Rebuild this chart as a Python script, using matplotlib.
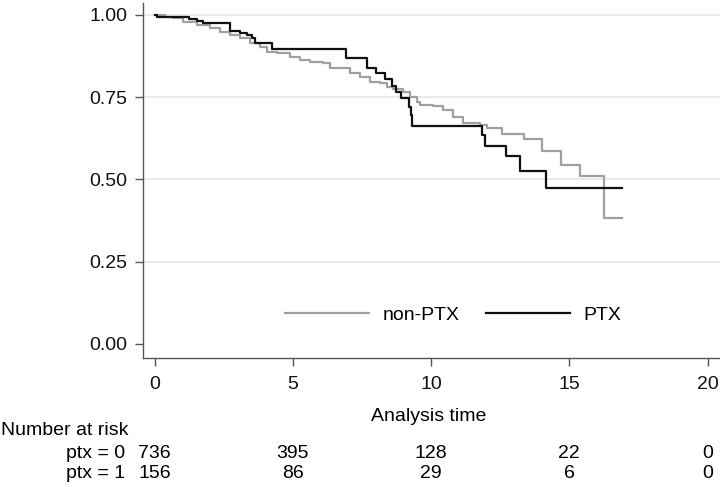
import numpy as np
import matplotlib
matplotlib.use("Agg")
import matplotlib.pyplot as plt
import matplotlib.transforms as mtransforms

plt.rcParams['font.family'] = ['Liberation Sans', 'DejaVu Sans']
fs = 14

# Kaplan-Meier curves (time of step, survival after step)
ptx_t = [0, 0.09, 1.24, 1.53, 1.75, 2.73, 3.09, 3.33, 3.51, 3.63, 4.24, 6.91, 7.67,
         8.00, 8.33, 8.58, 8.73, 8.90, 9.21, 9.26, 9.30, 11.85, 11.95, 12.71, 13.21,
         14.14, 16.89]
ptx_s = [1.0, 0.995, 0.989, 0.983, 0.975, 0.952, 0.944, 0.938, 0.930, 0.916, 0.896,
         0.868, 0.840, 0.823, 0.805, 0.784, 0.767, 0.748, 0.721, 0.695, 0.664, 0.635,
         0.602, 0.571, 0.526, 0.473, 0.473]

non_t = [0, 0.38, 0.68, 1.04, 1.52, 2.00, 2.37, 2.73, 3.09, 3.45, 3.81, 4.05, 4.42,
         4.90, 5.26, 5.62, 6.10, 6.34, 7.07, 7.43, 7.79, 8.15, 8.39, 8.63, 8.99, 9.24,
         9.48, 9.60, 10.08, 10.44, 10.80, 11.16, 11.77, 12.01, 12.55, 13.37, 14.02,
         14.70, 15.39, 16.25, 16.89]
non_s = [1.0, 0.994, 0.990, 0.980, 0.970, 0.960, 0.949, 0.939, 0.929, 0.914, 0.904,
         0.888, 0.884, 0.873, 0.863, 0.858, 0.853, 0.838, 0.823, 0.812, 0.797, 0.792,
         0.782, 0.774, 0.767, 0.752, 0.736, 0.726, 0.723, 0.711, 0.691, 0.671, 0.666,
         0.656, 0.639, 0.622, 0.588, 0.544, 0.511, 0.382, 0.382]

# number at risk table
risk_times = [0, 5, 10, 15, 20]
risk_ptx0 = [736, 395, 128, 22, 0]
risk_ptx1 = [156, 86, 29, 6, 0]

fig = plt.figure(figsize=(7.2, 4.87), dpi=100)
ax = fig.add_axes([0.1986, 0.2649, 0.8014, 0.729])

ax.step(non_t, non_s, where='post', color='#a0a0a0', lw=1.6, label='non-PTX')
ax.step(ptx_t, ptx_s, where='post', color='#111111', lw=1.6, label='PTX')

ax.set_xlim(-0.42, 20.45)
ax.set_ylim(-0.0426, 1.0365)
ax.set_xticks([0, 5, 10, 15, 20])
ax.set_yticks([0, 0.25, 0.5, 0.75, 1.0])
ax.set_yticklabels(["0.00", "0.25", "0.50", "0.75", "1.00"])
for y in [0.25, 0.5, 0.75, 1.0]:
    ax.axhline(y, color='#e6e6e6', lw=1.2, zorder=0)

for s in ['top', 'right']:
    ax.spines[s].set_visible(False)
for s in ['left', 'bottom']:
    ax.spines[s].set_color('#555555')
    ax.spines[s].set_linewidth(1.0)
ax.tick_params(axis='both', direction='out', length=6, width=1, color='#555555',
               labelsize=fs, labelcolor='#111111', pad=5)
ax.tick_params(axis='x', pad=7)

leg = ax.legend(loc='center left', bbox_to_anchor=(285 / 720, 1 - 315 / 487),
                bbox_transform=fig.transFigure, ncol=2, frameon=False, fontsize=fs,
                borderpad=0, borderaxespad=0, handlelength=4.3, handletextpad=0.7,
                columnspacing=1.4)

fig.text(0.5954, 1 - 416.3 / 487, "Analysis time", ha='center', va='center', fontsize=fs)

trans = mtransforms.blended_transform_factory(ax.transData, fig.transFigure)
fig.text(0.002, 1 - 430.3 / 487, "Number at risk", ha='left', va='center', fontsize=fs)
fig.text(125 / 720, 1 - 453.5 / 487, "ptx = 0", ha='right', va='center', fontsize=fs)
fig.text(125 / 720, 1 - 474 / 487, "ptx = 1", ha='right', va='center', fontsize=fs)
for t, n0, n1 in zip(risk_times, risk_ptx0, risk_ptx1):
    ax.text(t, 1 - 453.5 / 487, str(n0), transform=trans, ha='center', va='center', fontsize=fs)
    ax.text(t, 1 - 474 / 487, str(n1), transform=trans, ha='center', va='center', fontsize=fs)

fig.savefig("out.png", dpi=100)
